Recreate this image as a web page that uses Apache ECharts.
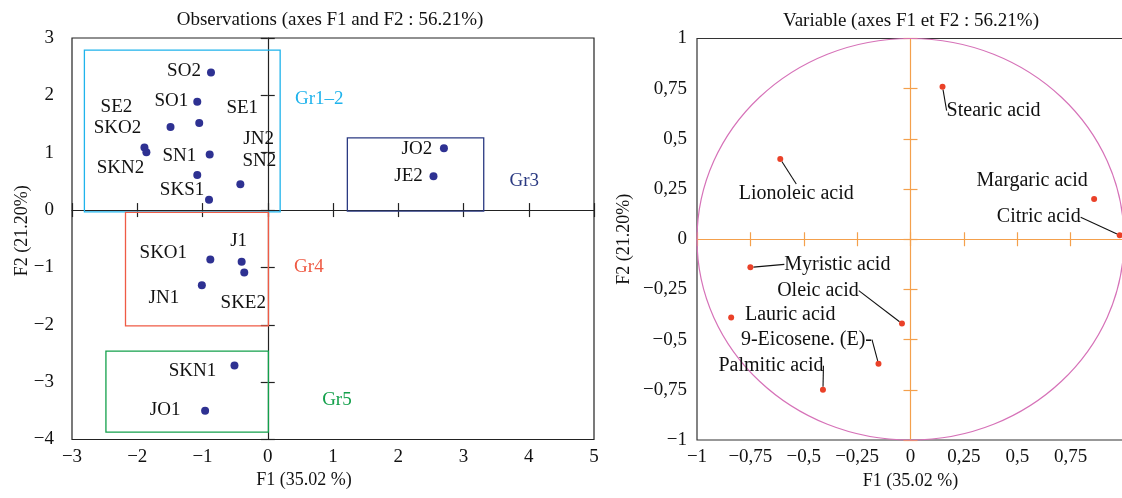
<!DOCTYPE html>
<html>
<head>
<meta charset="utf-8">
<script src="https://cdn.jsdelivr.net/npm/echarts@6/dist/echarts.min.js"></script>
<style>
html, body { margin: 0; padding: 0; background: #fff; }
#main { width: 1122px; height: 498px; }
</style>
</head>
<body>
<div id="main"></div>
<script>
// ---- observations (left map) ----
var obsNames = ['SO2', 'SO1', 'SE1', 'SKO2', 'SE2', 'SKN2', 'JN2', 'SN1', 'SN2', 'SKS1',
                'SKO1', 'J1', 'SKE2', 'JN1', 'SKN1', 'JO1', 'JO2', 'JE2'];
var obsF1 = [-0.87, -1.08, -1.05, -1.49, -1.89, -1.86, -0.89, -1.08, -0.42, -0.90,
             -0.88, -0.40, -0.36, -1.01, -0.51, -0.96, 2.70, 2.54];
var obsF2 = [2.40, 1.89, 1.52, 1.45, 1.09, 1.01, 0.97, 0.61, 0.45, 0.18,
             -0.86, -0.90, -1.09, -1.31, -2.71, -3.50, 1.08, 0.59];
// where each name sits relative to its point (px)
var obsLabelOffset = [[-27, -1], [-26, -1], [43, -15], [-53, 1], [-28, -41], [-26, 16], [49, -15], [-18, -19], [19, -23], [-27, -10],
                      [-47, -6], [-3, -21], [-1, 30], [-38, 13], [-42, 6], [-40, -1], [-27, 1], [-25, 0]];

// groups drawn as boxes
var groupNames = ['Gr1\u20132', 'Gr4', 'Gr5', 'Gr3'];
var groupColors = ['#1fb3ec', '#ef5b45', '#13a04b', '#2b3a82'];
var groupBoxX1 = [-2.81, -2.18, -2.48, 1.22];
var groupBoxX2 = [0.19, 0.01, 0.01, 3.31];
var groupBoxY1 = [2.79, -0.04, -2.46, 1.26];
var groupBoxY2 = [-0.03, -2.02, -3.87, -0.02];
var groupLabelX = [0.79, 0.63, 1.06, 3.93];
var groupLabelY = [1.94, -1.00, -3.31, 0.51];

// ---- variables (right correlation circle) ----
var varNames = ['Stearic acid', 'Lionoleic acid', 'Margaric acid', 'Citric acid', 'Myristic acid',
                'Oleic acid', 'Lauric acid', '9-Eicosene. (E)-', 'Palmitic acid'];
var varF1 = [0.15, -0.61, 0.86, 0.98, -0.75, -0.04, -0.84, -0.15, -0.41];
var varF2 = [0.76, 0.40, 0.20, 0.02, -0.14, -0.42, -0.39, -0.62, -0.75];
var varLabelOffset = [[51, 24], [16, 35], [-62, -18], [-81, -18], [87, -3], [-84, -33], [59, -3], [-72, -24], [-52, -24]];
var varLeader = [true, true, false, true, true, true, false, true, true];

var FONT = 'Liberation Serif';
var TXT = '#111';
var ORANGE = '#f4a04c';

function minus(v) { return String(v).replace('-', '\u2212'); }
function comma(v) { return minus(v).replace('.', ','); }

function zeroAxes(grid, other, color, interval, min, max) {
  // two axes on the zero line: one with ticks inside, one outside -> crossing ticks
  var list = [];
  [true, false].forEach(function (inside) {
    list.push({
      type: 'value', gridIndex: grid, min: min, max: max, interval: interval,
      axisLine: { show: inside, onZero: true, onZeroAxisIndex: other, lineStyle: { color: color, width: 1.2 } },
      axisTick: { show: true, inside: inside, length: 7, lineStyle: { color: color, width: 1.2 } },
      axisLabel: { show: false }, splitLine: { show: false }
    });
  });
  return list;
}

var obsData = obsNames.map(function (n, i) { return { name: n, value: [obsF1[i], obsF2[i]] }; });
var groupData = groupNames.map(function (n, i) {
  return { name: n, value: [groupLabelX[i], groupLabelY[i]], label: { color: groupColors[i] } };
});
var boxes = groupNames.map(function (n, i) {
  return [{ coord: [groupBoxX1[i], groupBoxY1[i]], itemStyle: { borderColor: groupColors[i] } },
          { coord: [groupBoxX2[i], groupBoxY2[i]] }];
});
var varData = varNames.map(function (n, i) {
  return { name: n, value: [varF1[i], varF2[i]], labelLine: { show: varLeader[i] } };
});

var nameStyle = { fontFamily: FONT, fontSize: 18, color: TXT };
var labelStyle = { fontFamily: FONT, fontSize: 19, color: TXT };

var xAxes = [
  { type: 'value', gridIndex: 0, min: -3, max: 5, interval: 1,
    axisLine: { show: false, onZero: false }, axisTick: { show: false }, splitLine: { show: false },
    axisLabel: Object.assign({ margin: 8, formatter: minus }, labelStyle),
    name: 'F1 (35.02 %)', nameLocation: 'middle', nameGap: 32, nameMoveOverlap: false,
    nameTextStyle: Object.assign({ padding: [0, 58, 0, 0] }, nameStyle) }
].concat(zeroAxes(0, 0, '#222', 1, -3, 5)).concat([
  { type: 'value', gridIndex: 1, min: -1, max: 1, interval: 0.25,
    axisLine: { show: false, onZero: false }, axisTick: { show: false }, splitLine: { show: false },
    axisLabel: Object.assign({ margin: 8, formatter: function (v) { return v === 1 ? '' : comma(v); } }, labelStyle),
    name: 'F1 (35.02 %)', nameLocation: 'middle', nameGap: 32, nameMoveOverlap: false, nameTextStyle: nameStyle }
]).concat(zeroAxes(1, 3, ORANGE, 0.25, -1, 1));

var yAxes = [
  { type: 'value', gridIndex: 0, min: -4, max: 3, interval: 1,
    axisLine: { show: false, onZero: false }, axisTick: { show: false }, splitLine: { show: false },
    axisLabel: Object.assign({ margin: 18, formatter: minus }, labelStyle),
    name: 'F2 (21.20%)', nameLocation: 'middle', nameGap: 41, nameMoveOverlap: false,
    nameTextStyle: Object.assign({ padding: [0, 0, 0, 16] }, nameStyle) }
].concat(zeroAxes(0, 0, '#222', 1, -4, 3)).concat([
  { type: 'value', gridIndex: 1, min: -1, max: 1, interval: 0.25,
    axisLine: { show: false, onZero: false }, axisTick: { show: false }, splitLine: { show: false },
    axisLabel: Object.assign({ margin: 10, formatter: comma }, labelStyle),
    name: 'F2 (21.20%)', nameLocation: 'middle', nameGap: 64, nameMoveOverlap: false, nameTextStyle: nameStyle }
]).concat(zeroAxes(1, 3, ORANGE, 0.25, -1, 1));

var option = {
  animation: false,
  backgroundColor: '#fff',
  textStyle: { fontFamily: FONT },
  graphic: [
    { type: 'text', x: 330, y: 20, style: { text: 'Observations (axes F1 and F2 : 56.21%)', align: 'center', verticalAlign: 'middle', font: '19px "Liberation Serif"', fill: TXT } },
    { type: 'text', x: 911, y: 21, style: { text: 'Variable (axes F1 et F2 : 56.21%)', align: 'center', verticalAlign: 'middle', font: '19px "Liberation Serif"', fill: TXT } }
  ],
  grid: [
    { left: 72, top: 38, width: 522, height: 401.5, show: true, borderColor: '#222', borderWidth: 1.2, backgroundColor: 'transparent', outerBoundsMode: 'none' },
    { left: 697, top: 38.5, width: 427, height: 401.5, show: true, borderColor: '#333', borderWidth: 1.2, backgroundColor: 'transparent', outerBoundsMode: 'none' }
  ],
  xAxis: xAxes,
  yAxis: yAxes,
  series: [
    {
      type: 'scatter', xAxisIndex: 0, yAxisIndex: 0, data: groupData,
      symbolSize: 1, itemStyle: { color: 'rgba(0,0,0,0)' }, silent: true,
      label: { show: true, position: 'inside', formatter: '{b}', fontFamily: FONT, fontSize: 19, opacity: 1 },
      markArea: {
        silent: true,
        itemStyle: { color: 'rgba(0,0,0,0)', borderWidth: 1.3 },
        data: boxes
      }
    },
    {
      type: 'scatter', xAxisIndex: 0, yAxisIndex: 0, data: obsData, z: 5,
      symbolSize: 8, itemStyle: { color: '#2e3192', opacity: 1 },
      label: Object.assign({ show: true, position: 'inside', formatter: '{b}' }, labelStyle),
      labelLayout: function (p) { var o = obsLabelOffset[p.dataIndex]; return { dx: o[0], dy: o[1] }; }
    },
    {
      type: 'custom', xAxisIndex: 3, yAxisIndex: 3, data: [[0, 0, 1]], silent: true, clip: false,
      renderItem: function (params, api) {
        var c = api.coord([api.value(0), api.value(1)]);
        var e = api.coord([api.value(0) + api.value(2), api.value(1) + api.value(2)]);
        return { type: 'ellipse', shape: { cx: c[0], cy: c[1], rx: e[0] - c[0], ry: c[1] - e[1] },
                 style: { fill: 'none', stroke: '#d672b8', lineWidth: 1.2 } };
      }
    },
    {
      type: 'scatter', xAxisIndex: 3, yAxisIndex: 3, data: varData, z: 5,
      symbolSize: 6, itemStyle: { color: '#ea4128', opacity: 1 },
      label: { show: true, position: 'inside', formatter: '{b}', fontFamily: FONT, fontSize: 20, color: TXT },
      labelLine: { show: true, lineStyle: { color: '#111', width: 1.1 } },
      labelLayout: function (p) { var o = varLabelOffset[p.dataIndex]; return { dx: o[0], dy: o[1] }; }
    }
  ]
};

var chart = echarts.init(document.getElementById('main'));
chart.setOption(option);
</script>
</body>
</html>
